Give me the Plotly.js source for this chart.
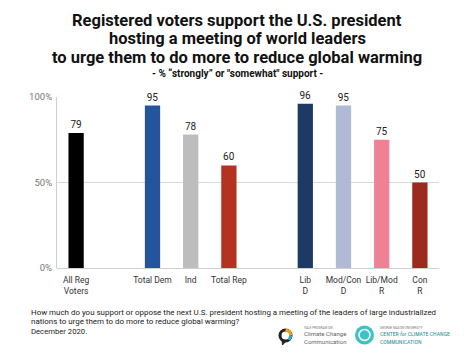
<!DOCTYPE html>
<html><head><meta charset="utf-8">
<script src="https://cdn.plot.ly/plotly-3.0.1.min.js"></script>
<style>html,body{margin:0;padding:0;background:#fff}#c{width:474px;height:355px}</style>
</head><body><div id="c"></div>
<script>
const categories = ["All Reg<br>Voters", " ", "Total Dem", "Ind", "Total Rep", "  ", "Lib<br>D", "Mod/Con<br>D", "Lib/Mod<br>R", "Con<br>R"];
const barCats = ["All Reg<br>Voters", "Total Dem", "Ind", "Total Rep", "Lib<br>D", "Mod/Con<br>D", "Lib/Mod<br>R", "Con<br>R"];
const values = [79, 95, 78, 60, 96, 95, 75, 50];
const colors = ["#000000", "#22559b", "#bdbdbd", "#b33222", "#1c3a64", "#b1b9d5", "#ef8194", "#9b2b1f"];
const yTickVals = [0, 50, 100];
const yTickText = ["0%", "50%", "100%"];

const trace = {
  type: "bar", x: barCats, y: values,
  marker: {color: colors},
  width: 0.4,
  text: values.map(String), textposition: "outside", cliponaxis: false,
  textfont: {family: "Roboto", size: 10, color: "#222"},
  hoverinfo: "skip"
};
const L = 57, R = 35, T = 97, B = 87, W = 474, H = 355;
function px(xp){return (xp - L) / (W - L - R);}
function py(yp){return (H - B - yp) / (H - T - B);}
function ann(x, y, text, size, color, xanchor, family){
  return {x: px(x), xref: "paper", y: py(y), yref: "paper", xanchor: xanchor || "left", yanchor: "middle",
    align: "left", text: text, font: {family: family || "Roboto", size: size, color: color}, showarrow: false,
    borderpad: 0};
}
const layout = {
  width: W, height: H,
  margin: {l: L, r: R, t: T, b: B},
  paper_bgcolor: "#fff", plot_bgcolor: "#fff",
  showlegend: false,
  font: {family: "Roboto", color: "#333"},
  xaxis: {type: "category", categoryorder: "array", categoryarray: categories,
    range: [-0.5, 9.5], showgrid: false, zeroline: false, showline: false,
    ticks: "", ticklabelstandoff: 5, tickfont: {size: 8.5, color: "#333"}, fixedrange: true},
  yaxis: {range: [0, 100], tickvals: yTickVals, ticktext: yTickText,
    showgrid: true, gridcolor: "#d9d9d9", gridwidth: 1, zeroline: true, zerolinecolor: "#cfcfcf",
    showline: true, linecolor: "#cfcfcf", linewidth: 1, ticks: "",
    tickfont: {size: 9.5, color: "#777"}, ticklabelstandoff: 2, fixedrange: true},
  annotations: [
    ann(237, 20, "<b>Registered voters support the U.S. president</b>", 16.5, "#111", "center"),
    ann(237, 38.5, "<b>hosting a meeting of world leaders</b>", 16.5, "#111", "center"),
    ann(237, 57, "<b>to urge them to do more to reduce global warming</b>", 16.5, "#111", "center"),
    ann(237, 73, "<b>- % “strongly” or \"somewhat\" support -</b>", 10, "#111", "center"),
    ann(30, 312, "How much do you support or oppose the next U.S. president hosting a meeting of the leaders of large industrialized", 7.95, "#222"),
    ann(30, 321, "nations to urge them to do more to reduce global warming?", 7.95, "#222"),
    ann(30, 331, "December 2020.", 7.7, "#222"),
    ann(303, 328, "YALE PROGRAM ON", 3.2, "#777"),
    ann(303, 337.5, "Climate Change<br>Communication", 6, "#666"),
    ann(379, 328, "GEORGE MASON UNIVERSITY", 3.2, "#777"),
    ann(379, 338, "CENTER <i>for</i> CLIMATE CHANGE<br>COMMUNICATION", 5.8, "#1f8f95", "left", "Roboto Condensed, Roboto")
  ],
  shapes: [
    {type: "circle", xref: "paper", yref: "paper", x0: px(280), x1: px(291), y0: py(341), y1: py(330),
     line: {color: "#222", width: 3}, fillcolor: "rgba(0,0,0,0)"},
    {type: "path", xref: "paper", yref: "paper",
     path: "M " + px(285.5) + "," + py(330) + " L " + px(289.5) + "," + py(331.5) + " L " + px(291) + "," + py(335.5),
     line: {color: "#f2a31b", width: 3}},
    {type: "path", xref: "paper", yref: "paper",
     path: "M " + px(291) + "," + py(335.5) + " L " + px(289) + "," + py(340),
     line: {color: "#2ab3c1", width: 3}},
    {type: "path", xref: "paper", yref: "paper",
     path: "M " + px(282) + "," + py(339.5) + " L " + px(282.5) + "," + py(345) + " L " + px(286) + "," + py(341) + " Z",
     fillcolor: "#222", line: {color: "#222", width: 1}},
    {type: "circle", xref: "paper", yref: "paper", x0: px(355), x1: px(374), y0: py(344.5), y1: py(325.5),
     line: {width: 0}, fillcolor: "#3cc3c7"},
    {type: "circle", xref: "paper", yref: "paper", x0: px(359), x1: px(370), y0: py(340.5), y1: py(329.5),
     line: {color: "#fff", width: 1.5}, fillcolor: "rgba(0,0,0,0)"}
  ]
};
Plotly.newPlot("c", [trace], layout, {displayModeBar: false, staticPlot: true});
</script></body></html>
